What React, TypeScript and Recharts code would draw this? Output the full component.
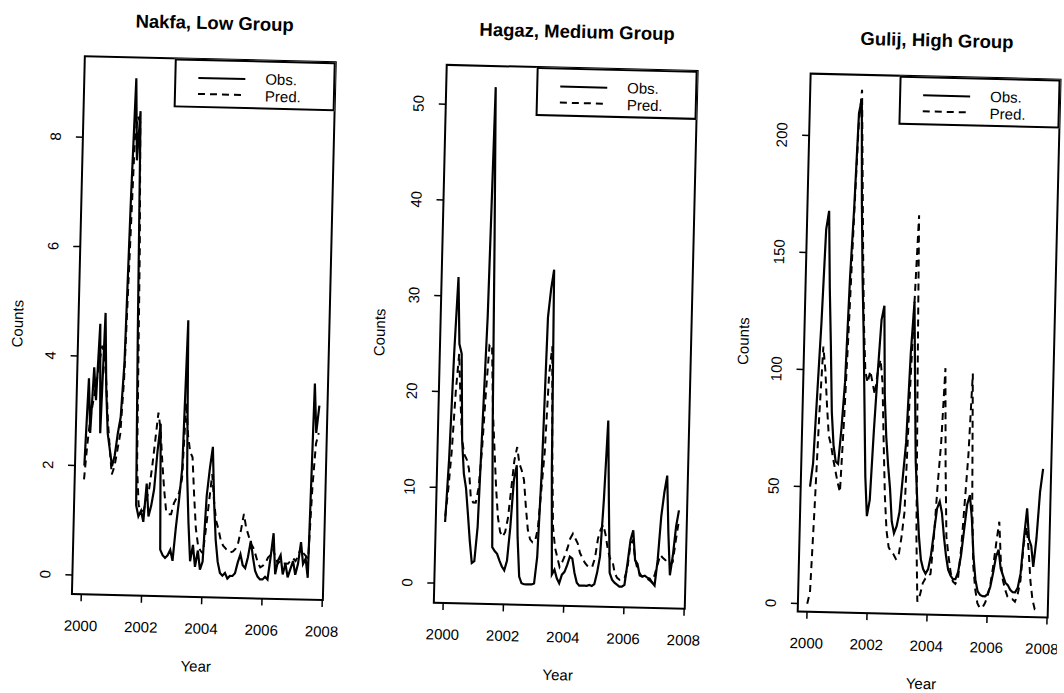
import { Line, LineChart, ReferenceArea, XAxis, YAxis } from 'recharts';

const FONT = "'Liberation Sans', Arial, Helvetica, sans-serif";
const W = 1064;
const H = 693;
// the scanned figure sits slightly rotated on the page
const TILT_DEG = 1.375;

// shared time axis: monthly points from Jan 2000
const YEAR_TICKS = [2000, 2002, 2004, 2006, 2008];
const X_DOMAIN: [number, number] = [1999.69, 2008.02];

// Nakfa, low group
const nakfaObs = [
  2.0, 3.6, 2.6, 3.8, 3.2, 4.6, 2.6, 4.8, 3.4, 2.6, 2.3, 2.0,
  2.2, 2.6, 2.9, 3.9, 6.9, 9.1, 7.6, 8.5, 4.5, 1.3, 1.1, 1.2,
  1.0, 1.7, 1.1, 1.3, 1.6, 2.3, 2.8, 0.5, 0.4, 0.35, 0.4, 0.5,
  0.3, 0.9, 1.4, 2.0, 4.7, 1.9, 1.0, 0.3, 0.6, 0.2, 0.5, 0.15,
  0.3, 1.5, 2.0, 2.4, 1.4, 0.7, 0.3, 0.1, 0.05, 0.1, 0.0, 0.05,
  0.05, 0.1, 0.3, 0.45, 0.25, 0.2, 0.4, 0.7, 0.4, 0.15, 0.05, 0.0,
  0.0, 0.05, 0.0, 0.4, 0.85, 0.1, 0.35, 0.45, 0.1, 0.3, 0.05, 0.2,
  0.35, 0.1, 0.3, 0.7, 0.3, 0.4, 0.05, 3.6, 2.7, 3.2,
];
const nakfaPred = [
  1.75, 2.4, 2.9, 3.2, 3.5, 3.9, 4.2, 4.0, 3.5, 2.8, 2.3, 1.85,
  2.0, 2.3, 2.6, 3.6, 5.8, 8.0, 8.4, 8.3, 6.0, 2.0, 1.3, 1.2,
  1.2, 1.4, 1.6, 2.0, 2.5, 3.0, 2.7, 2.1, 1.6, 1.2, 1.15, 1.15,
  1.35, 1.45, 1.55, 1.8, 3.2, 2.6, 2.3, 2.2, 1.5, 0.9, 0.6, 0.5,
  0.45, 0.9, 1.4, 1.9, 1.4, 1.05, 0.9, 0.7, 0.6, 0.55, 0.5, 0.48,
  0.5, 0.55, 0.66, 0.9, 1.19, 0.94, 0.8, 0.65, 0.58, 0.45, 0.3, 0.22,
  0.25, 0.3, 0.4, 0.45, 0.55, 0.4, 0.3, 0.35, 0.3, 0.3, 0.3, 0.35,
  0.4, 0.35, 0.45, 0.6, 0.5, 0.45, 0.4, 1.7, 2.5, 2.7,
];
const nakfaTicks = [0, 2, 4, 6, 8];

// Hagaz, medium group
const hagazObs = [
  6.4, 13, 24, 32, 25, 24, 15, 11.5, 10, 7.3, 4.5, 2.2,
  2.4, 6, 17, 28, 51.9, 36, 17, 3.9, 3.5, 3.2, 2.5, 1.9,
  1.5, 2.5, 6, 11, 12.5, 5, 0.9, 0.2, 0.1, 0.1, 0.1, 0.1,
  0.2, 3, 12, 28, 31, 33, 12, 1.2, 1.7, 0.8, 0.3, 1.2,
  1.5, 2.2, 3.1, 2.9, 1.4, 0.4, 0.1, 0.1, 0.1, 0.1, 0.2, 0.1,
  0.3, 1.5, 3.2, 9.1, 17.4, 9, 1.5, 0.8, 0.5, 0.3, 0.1, 0.1,
  0.3, 2.5, 5, 6, 2.9, 2.5, 1.3, 1.2, 1.3, 1.1, 1.0, 0.6,
  0.3, 3, 7.5, 10, 11.8, 5.8, 1.4, 3.5, 6.5, 8.2,
];
const hagazPred = [
  7, 10, 14, 20, 24, 19, 15, 13.5, 13, 12, 9, 8.5,
  8.5, 10, 14, 20, 25, 25, 18, 14, 10, 7, 5.5, 5,
  5.5, 7, 10, 13, 14.4, 12.7, 12, 11, 8.2, 5.8, 4.8, 4.5,
  4.6, 6, 10, 14, 22, 25, 14, 6.2, 4, 3, 2, 2.5,
  3.2, 4, 5, 5.5, 5, 4.5, 3.5, 3, 2.5, 2.2, 2, 2.1,
  3, 5, 6, 6.5, 5.5, 4, 3, 2.8, 1.5, 1.0, 0.8, 0.8,
  1.0, 2, 4.5, 5, 3, 2, 1.5, 1.2, 1.2, 1.0, 0.8, 0.6,
  1.5, 2.5, 3.5, 3.2, 3, 2.7, 2.5, 2.8, 5, 7,
];
const hagazTicks = [0, 10, 20, 30, 40, 50];

// Gulij, high group
const gulijObs = [
  50, 60, 90, 120, 160, 168, 135, 110, 82, 68, 61, 60,
  75, 95, 140, 170, 210, 216, 172, 140, 115, 85, 55, 38,
  45, 75, 100, 122, 128, 90, 72, 60, 50, 36, 31, 34,
  40, 55, 70, 108, 130, 95, 62, 45, 30, 20, 16, 14,
  16, 22, 32, 42, 45, 40, 30, 22, 16, 13.5, 12, 12,
  15, 22, 33, 44, 48, 38, 22, 12, 7, 5.5, 5, 5,
  6, 9, 15, 22, 25, 17, 14, 11, 10, 8, 7, 7,
  9, 15, 30, 43, 30, 27, 18, 30, 50, 60,
];
const gulijPred = [
  0, 5, 40, 80, 110, 100, 85, 72, 68, 62, 57, 52,
  48, 80, 120, 165, 205, 220, 185, 150, 120, 100, 95, 100,
  95, 90, 100, 105, 95, 70, 47, 32, 25, 23, 22, 20,
  21, 29, 40, 90, 130, 167, 95, 30, 2, 5, 10, 12,
  13, 14, 30, 52, 70, 102, 60, 30, 22, 15, 11, 10,
  12, 25, 45, 65, 100, 45, 18, 8, 2, 0, 0, 2,
  5, 10, 18, 28, 37, 20, 12, 8, 5, 4, 4, 3,
  6, 12, 28, 35, 25, 12, 4, 0, 0, 0,
];
const gulijTicks = [0, 50, 100, 150, 200];

const toRows = (obs: number[], pred: number[]) =>
  obs.map((o, i) => ({ t: 2000 + i / 12, obs: o, pred: pred[i] ?? null }));

const BOX_TOP = 67;
const BOX_BOTTOM = 605;
const Y_AXIS_W = 40;
const X_AXIS_H = 30;

interface PanelProps {
  title: string;
  obs: number[];
  pred: number[];
  yDomain: [number, number];
  yTicks: number[];
  left: number;
  right: number;
  titleX: number;
}

const RotatedTick = (props: any) => {
  const { x, y, payload } = props;
  return (
    <text
      x={x}
      y={y}
      transform={`rotate(-90 ${x} ${y})`}
      textAnchor="middle"
      fontSize={15}
      fontFamily={FONT}
      fill="#000"
    >
      {payload.value}
    </text>
  );
};

const Legend = ({ right }: { right: number }) => (
  <div
    style={{
      position: 'absolute',
      left: right - 161,
      top: BOX_TOP,
      width: 161,
      height: 49,
      border: '2px solid #000',
      boxSizing: 'border-box',
      background: '#fff',
      fontFamily: FONT,
      fontSize: 15,
    }}
  >
    <svg width={80} height={46} style={{ position: 'absolute', left: 0, top: 0 }}>
      <line x1={22} x2={69} y1={17} y2={17} stroke="#000" strokeWidth={2} />
      <line x1={22} x2={69} y1={33} y2={33} stroke="#000" strokeWidth={2} strokeDasharray="7 5" />
    </svg>
    <div style={{ position: 'absolute', left: 89, top: 8, lineHeight: '17px' }}>
      Obs.
      <br />
      Pred.
    </div>
  </div>
);

const centered = (x: number, y: number): React.CSSProperties => ({
  position: 'absolute',
  left: x,
  top: y,
  transform: 'translate(-50%, -50%)',
  whiteSpace: 'nowrap',
  fontFamily: FONT,
});

const Panel = ({ title, obs, pred, yDomain, yTicks, left, right, titleX }: PanelProps) => {
  const rows = toRows(obs, pred);
  const mid = (left + right) / 2;
  return (
    <>
      <div style={{ position: 'absolute', left: 0, top: 0 }}>
        <LineChart
          width={W}
          height={H}
          data={rows}
          margin={{
            top: BOX_TOP,
            left: left - Y_AXIS_W,
            right: W - right,
            bottom: H - BOX_BOTTOM - X_AXIS_H,
          }}
        >
          <XAxis
            dataKey="t"
            type="number"
            domain={X_DOMAIN}
            ticks={YEAR_TICKS}
            allowDataOverflow
            height={X_AXIS_H}
            axisLine={false}
            tickLine={{ stroke: '#000', strokeWidth: 1.5 }}
            tickSize={7}
            tickMargin={19}
            tick={{ fill: '#000', fontSize: 15, fontFamily: FONT }}
          />
          <YAxis
            type="number"
            domain={yDomain}
            ticks={yTicks}
            allowDataOverflow
            width={Y_AXIS_W}
            axisLine={false}
            tickLine={{ stroke: '#000', strokeWidth: 1.5 }}
            tickSize={7}
            tickMargin={15}
            tick={<RotatedTick />}
          />
          <ReferenceArea
            x1={X_DOMAIN[0]}
            x2={X_DOMAIN[1]}
            y1={yDomain[0]}
            y2={yDomain[1]}
            fill="none"
            stroke="#000"
            strokeWidth={2}
            ifOverflow="visible"
          />
          <Line
            dataKey="pred"
            type="linear"
            stroke="#000"
            strokeWidth={2}
            strokeDasharray="7 5"
            dot={false}
            isAnimationActive={false}
          />
          <Line
            dataKey="obs"
            type="linear"
            stroke="#000"
            strokeWidth={2.2}
            dot={false}
            isAnimationActive={false}
          />
        </LineChart>
      </div>
      <Legend right={right} />
      <div style={{ ...centered(titleX, 30.5), fontSize: 18.5, fontWeight: 'bold' }}>{title}</div>
      <div
        style={{
          ...centered(left - 61, (BOX_TOP + BOX_BOTTOM) / 2),
          fontSize: 15,
          transform: 'translate(-50%, -50%) rotate(-90deg)',
        }}
      >
        Counts
      </div>
      <div style={{ ...centered(mid, 674), fontSize: 15 }}>Year</div>
    </>
  );
};

export default function App() {
  return (
    <div style={{ position: 'absolute', left: 0, top: 0, width: W, height: H, overflow: 'hidden', background: '#fff' }}>
      <div
        style={{
          position: 'absolute',
          left: 0,
          top: 0,
          width: W,
          height: H,
          transform: `rotate(${TILT_DEG}deg)`,
          transformOrigin: '50% 50%',
        }}
      >
        <Panel
          title="Nakfa, Low Group"
          obs={nakfaObs}
          pred={nakfaPred}
          yDomain={[-0.35, 9.48]}
          yTicks={nakfaTicks}
          left={78}
          right={329}
          titleX={207}
        />
        <Panel
          title="Hagaz, Medium Group"
          obs={hagazObs}
          pred={hagazPred}
          yDomain={[-2.05, 54.1]}
          yTicks={hagazTicks}
          left={440}
          right={691}
          titleX={569.5}
        />
        <Panel
          title="Gulij, High Group"
          obs={gulijObs}
          pred={gulijPred}
          yDomain={[-3.4, 226.4]}
          yTicks={gulijTicks}
          left={804}
          right={1054}
          titleX={929.5}
        />
      </div>
    </div>
  );
}
